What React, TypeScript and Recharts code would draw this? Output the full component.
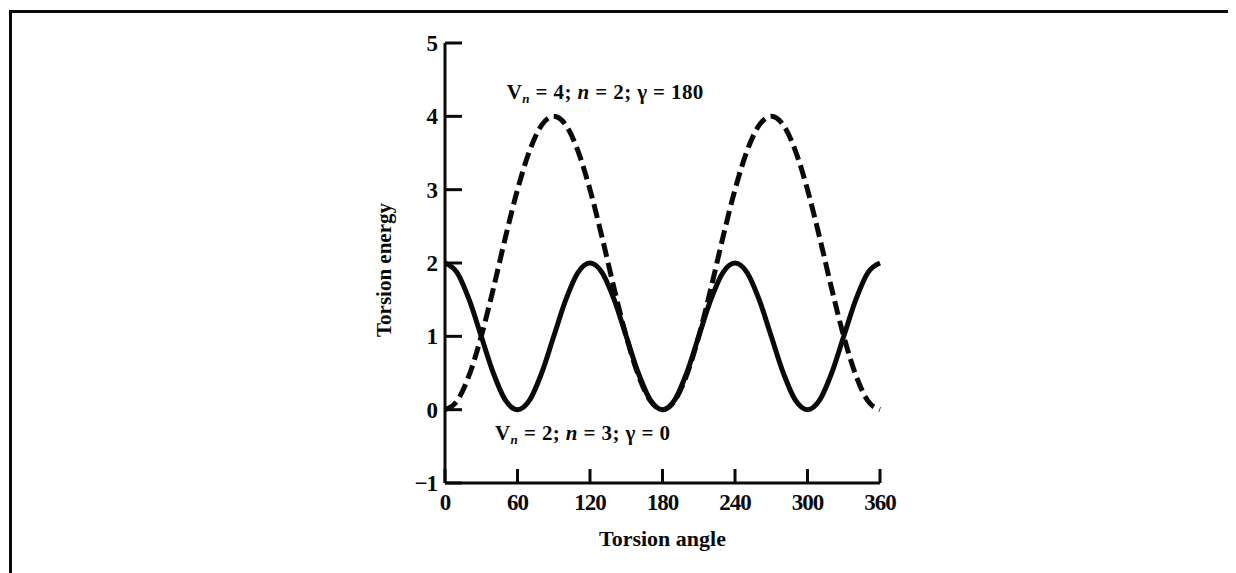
import React from 'react';
import { LineChart, Line, XAxis, YAxis, ReferenceDot } from 'recharts';

// torsion angle in degrees, every 10°
const angles = [
  0, 10, 20, 30, 40, 50, 60, 70, 80, 90, 100, 110, 120, 130, 140, 150, 160, 170, 180,
  190, 200, 210, 220, 230, 240, 250, 260, 270, 280, 290, 300, 310, 320, 330, 340, 350, 360,
];

// Vn = 4; n = 2; γ = 180 (dashed)
const twofold = [
  0, 0.12, 0.47, 1.0, 1.65, 2.35, 3.0, 3.53, 3.88, 4.0, 3.88, 3.53, 3.0, 2.35, 1.65, 1.0, 0.47, 0.12, 0,
  0.12, 0.47, 1.0, 1.65, 2.35, 3.0, 3.53, 3.88, 4.0, 3.88, 3.53, 3.0, 2.35, 1.65, 1.0, 0.47, 0.12, 0,
];

// Vn = 2; n = 3; γ = 0 (solid)
const threefold = [
  2, 1.87, 1.5, 1, 0.5, 0.13, 0, 0.13, 0.5, 1, 1.5, 1.87, 2,
  1.87, 1.5, 1, 0.5, 0.13, 0, 0.13, 0.5, 1, 1.5, 1.87, 2,
  1.87, 1.5, 1, 0.5, 0.13, 0, 0.13, 0.5, 1, 1.5, 1.87, 2,
];

const xTicks = [0, 60, 120, 180, 240, 300, 360];
const yTicks = [-1, 0, 1, 2, 3, 4, 5];

const data = angles.map((a, i) => ({ angle: a, twofold: twofold[i], threefold: threefold[i] }));

const FONT = '"Liberation Serif", "Times New Roman", serif';
const INK = '#0a0a0a';

const tickStyle = { fontFamily: FONT, fontWeight: 700, fontSize: 23, letterSpacing: -1, fill: INK };

// "Vₙ = a; n = b; γ = c" with italic n
const NoteLabel = ({ viewBox, vn, n, gamma }: any) => {
  if (!viewBox) return null;
  return (
    <text
      x={viewBox.x}
      y={viewBox.y}
      fontFamily={FONT}
      fontWeight={700}
      fontSize={21}
      letterSpacing={0.4}
      fill={INK}
    >
      <tspan>V</tspan>
      <tspan fontStyle="italic" fontSize={13} dy={4}>n</tspan>
      <tspan dy={-4}>{` = ${vn}; `}</tspan>
      <tspan fontStyle="italic">n</tspan>
      <tspan>{` = ${n}; γ = ${gamma}`}</tspan>
    </text>
  );
};

const YTitle = ({ viewBox }: any) => {
  if (!viewBox) return null;
  const x = viewBox.x + 6;
  const y = viewBox.y + viewBox.height / 2 + 7;
  return (
    <text
      x={x}
      y={y}
      transform={`rotate(-90, ${x}, ${y})`}
      textAnchor="middle"
      fontFamily={FONT}
      fontWeight={700}
      fontSize={21}
      fill={INK}
    >
      Torsion energy
    </text>
  );
};

const XTitle = ({ viewBox }: any) => {
  if (!viewBox) return null;
  return (
    <text
      x={viewBox.x + viewBox.width / 2}
      y={viewBox.y + 63}
      textAnchor="middle"
      fontFamily={FONT}
      fontWeight={700}
      fontSize={22}
      fill={INK}
    >
      Torsion angle
    </text>
  );
};

export default function App() {
  return (
    <div style={{ position: 'relative', width: 1228, height: 565, background: '#fff' }}>
      {/* page frame: only the top and left edges are visible */}
      <div
        style={{
          position: 'absolute',
          left: 1,
          top: 2,
          right: 0,
          bottom: 0,
          borderTop: `3px solid ${INK}`,
          borderLeft: `3px solid ${INK}`,
        }}
      />
      <div style={{ position: 'absolute', left: 0, top: 0 }}>
        <LineChart
          width={1228}
          height={565}
          data={data}
          margin={{ top: 35, right: 356, bottom: 30, left: 377 }}
        >
          <XAxis
            type="number"
            dataKey="angle"
            domain={[0, 360]}
            ticks={xTicks}
            interval={0}
            height={60}
            tickSize={-14}
            tickMargin={25}
            tick={tickStyle}
            axisLine={{ stroke: INK, strokeWidth: 3 }}
            tickLine={{ stroke: INK, strokeWidth: 3 }}
            label={<XTitle />}
          />
          <YAxis
            type="number"
            domain={[-1, 5]}
            ticks={yTicks}
            interval={0}
            width={60}
            tickSize={-17}
            tickMargin={25}
            tick={tickStyle}
            tickFormatter={(v: number) => (v < 0 ? `\u2212${Math.abs(v)}` : `${v}`)}
            axisLine={{ stroke: INK, strokeWidth: 3 }}
            tickLine={{ stroke: INK, strokeWidth: 3 }}
            label={<YTitle />}
          />
          <Line
            type="monotone"
            dataKey="threefold"
            stroke={INK}
            strokeWidth={5}
            dot={false}
            isAnimationActive={false}
          />
          <Line
            type="monotone"
            dataKey="twofold"
            stroke={INK}
            strokeWidth={5}
            strokeDasharray="14 6"
            dot={false}
            isAnimationActive={false}
          />
          <ReferenceDot
            x={51}
            y={4.23}
            r={0}
            fill="none"
            stroke="none"
            label={<NoteLabel vn={4} n={2} gamma={180} />}
          />
          <ReferenceDot
            x={41.4}
            y={-0.42}
            r={0}
            fill="none"
            stroke="none"
            label={<NoteLabel vn={2} n={3} gamma={0} />}
          />
        </LineChart>
      </div>
    </div>
  );
}
